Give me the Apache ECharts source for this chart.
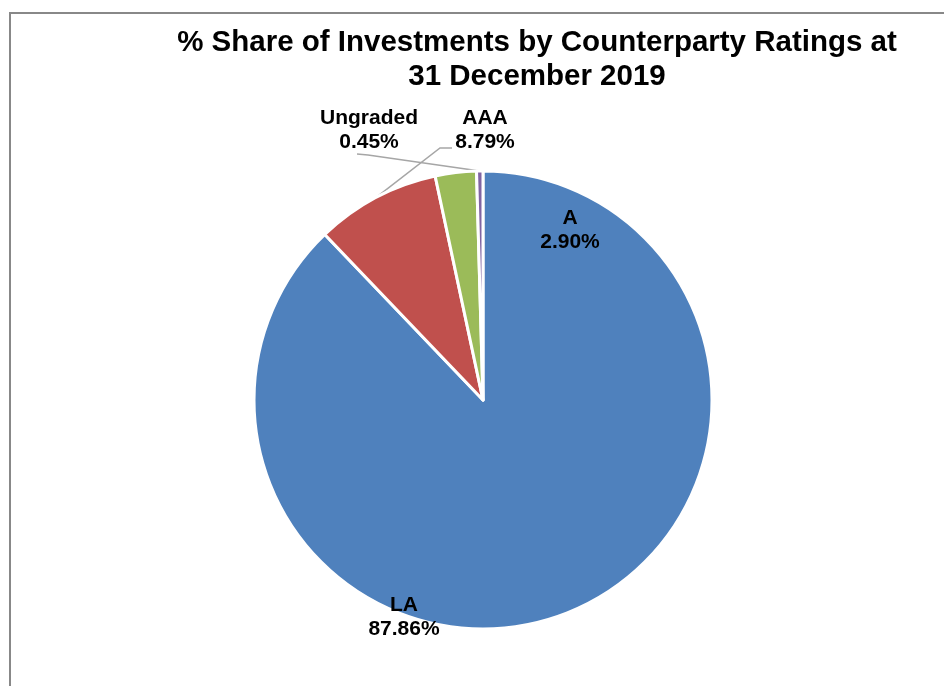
<!DOCTYPE html>
<html>
<head>
<meta charset="utf-8">
<script src="https://cdn.jsdelivr.net/npm/echarts@6/dist/echarts.min.js"></script>
<style>
  html, body { margin: 0; padding: 0; background: #fff; }
  #chart { width: 944px; height: 686px; }
</style>
</head>
<body>
<div id="chart"></div>
<script>
  // data, clockwise from 12 o'clock
  const ratings = ['LA', 'AAA', 'A', 'Ungraded'];
  const shares = [87.86, 8.79, 2.90, 0.45];
  const colors = ['#4F81BD', '#C0504D', '#9BBB59', '#8064A2'];

  // where each label sits, and the bend of its leader line (null = no line)
  const labelPos = [[404, 617], [485, 130], [570, 230], [369, 130]];
  const lineBends = [null, [[440, 148], [452, 148]], null, [[368, 155], [357, 154]]];

  let chart = echarts.init(document.getElementById('chart'));

  let pieData = ratings.map(function (name, i) {
    let withLine = lineBends[i] != null;
    return {
      name: name,
      value: shares[i],
      itemStyle: { color: colors[i] },
      label: { position: withLine ? 'outside' : 'inside' },
      labelLine: { show: withLine }
    };
  });

  let option = {
    animation: false,
    backgroundColor: '#fff',
    textStyle: { fontFamily: 'Liberation Sans, Arial, sans-serif' },
    title: {
      text: '% Share of Investments by Counterparty Ratings at\n31 December 2019',
      left: 532,
      top: 21,
      textAlign: 'center',
      textStyle: {
        fontFamily: 'Liberation Sans, Arial, sans-serif',
        fontSize: 29.5,
        fontWeight: 'bold',
        color: '#000',
        lineHeight: 34
      }
    },
    graphic: [{
      type: 'rect',
      shape: { x: 10, y: 13, width: 960, height: 700 },
      style: { fill: 'none', stroke: '#888', lineWidth: 2 },
      silent: true
    }],
    series: [{
      type: 'pie',
      center: [483, 400],
      radius: 229,
      startAngle: 90,
      clockwise: true,
      avoidLabelOverlap: false,
      itemStyle: { borderColor: '#fff', borderWidth: 3 },
      label: {
        show: true,
        color: '#000',
        fontSize: 21,
        fontWeight: 'bold',
        lineHeight: 24,
        align: 'center',
        formatter: function (p) {
          return p.name + '\n' + p.value.toFixed(2) + '%';
        }
      },
      labelLine: {
        show: false,
        lineStyle: { color: '#a6a6a6', width: 1.5 }
      },
      labelLayout: function (params) {
        let i = params.dataIndex;
        let res = {
          x: labelPos[i][0],
          y: labelPos[i][1],
          align: 'center',
          verticalAlign: 'middle'
        };
        if (lineBends[i] && params.labelLinePoints) {
          res.labelLinePoints = [params.labelLinePoints[0]].concat(lineBends[i]);
        }
        return res;
      },
      emphasis: { disabled: true },
      data: pieData
    }]
  };

  chart.setOption(option, true);
</script>
</body>
</html>
